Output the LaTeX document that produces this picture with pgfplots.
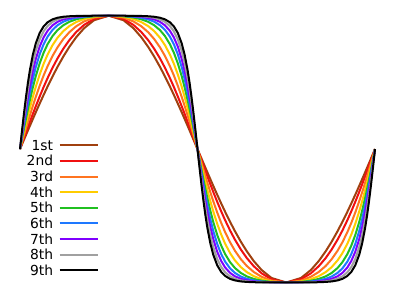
\documentclass[border=0pt]{standalone}
\usepackage{pgfplots}
\usepackage{pgfplotstable}
\pgfplotsset{compat=1.18}
\usepackage{fontspec}
\setmainfont{DejaVu Sans}
\definecolor{c1}{HTML}{A0400F}
\definecolor{c2}{HTML}{F01010}
\definecolor{c3}{HTML}{FF7420}
\definecolor{c4}{HTML}{FFCC00}
\definecolor{c5}{HTML}{20C020}
\definecolor{c6}{HTML}{1E78FF}
\definecolor{c7}{HTML}{7F00FF}
\definecolor{c8}{HTML}{A0A0A0}
\definecolor{c9}{HTML}{000000}
\pgfplotstableread{
x c1 c2 c3 c4 c5 c6 c7 c8 c9
0 0 0 0 0 0 0 0 0 0
2 0.0349 0.0412 0.0514 0.0634 0.0770 0.0898 0.1032 0.1184 0.1354
4 0.0698 0.0823 0.1025 0.1262 0.1530 0.1782 0.2040 0.2334 0.2657
6 0.1045 0.1232 0.1532 0.1880 0.2271 0.2636 0.3006 0.3419 0.3868
8 0.1392 0.1637 0.2030 0.2483 0.2986 0.3449 0.3911 0.4418 0.4955
10 0.1736 0.2039 0.2519 0.3067 0.3667 0.4211 0.4743 0.5314 0.5902
13 0.2250 0.2631 0.3230 0.3900 0.4615 0.5244 0.5840 0.6454 0.7056
16 0.2756 0.3209 0.3908 0.4672 0.5464 0.6136 0.6750 0.7356 0.7920
20 0.3420 0.3952 0.4754 0.5599 0.6436 0.7111 0.7695 0.8238 0.8709
24 0.4067 0.4659 0.5525 0.6403 0.7230 0.7863 0.8382 0.8836 0.9203
28 0.4695 0.5325 0.6220 0.7088 0.7866 0.8430 0.8869 0.9231 0.9507
33 0.5446 0.6096 0.6979 0.7790 0.8473 0.8937 0.9277 0.9540 0.9726
38 0.6157 0.6794 0.7623 0.8344 0.8916 0.9283 0.9537 0.9722 0.9845
44 0.6947 0.7533 0.8258 0.8849 0.9288 0.9553 0.9727 0.9846 0.9920
50 0.7660 0.8166 0.8761 0.9219 0.9540 0.9724 0.9838 0.9913 0.9957
57 0.8387 0.8775 0.9209 0.9523 0.9732 0.9846 0.9913 0.9956 0.9979
65 0.9063 0.9310 0.9572 0.9752 0.9866 0.9926 0.9960 0.9980 0.9991
75 0.9659 0.9756 0.9854 0.9918 0.9957 0.9977 0.9988 0.9994 0.9997
90 1 1 1 1 1 1 1 1 1
105 0.9659 0.9756 0.9854 0.9918 0.9957 0.9977 0.9988 0.9994 0.9997
115 0.9063 0.9310 0.9572 0.9752 0.9866 0.9926 0.9960 0.9980 0.9991
123 0.8387 0.8775 0.9209 0.9523 0.9732 0.9846 0.9913 0.9956 0.9979
130 0.7660 0.8166 0.8761 0.9219 0.9540 0.9724 0.9838 0.9913 0.9957
136 0.6947 0.7533 0.8258 0.8849 0.9288 0.9553 0.9727 0.9846 0.9920
142 0.6157 0.6794 0.7623 0.8344 0.8916 0.9283 0.9537 0.9722 0.9845
147 0.5446 0.6096 0.6979 0.7790 0.8473 0.8937 0.9277 0.9540 0.9726
152 0.4695 0.5325 0.6220 0.7088 0.7866 0.8430 0.8869 0.9231 0.9507
156 0.4067 0.4659 0.5525 0.6403 0.7230 0.7863 0.8382 0.8836 0.9203
160 0.3420 0.3952 0.4754 0.5599 0.6436 0.7111 0.7695 0.8238 0.8709
164 0.2756 0.3209 0.3908 0.4672 0.5464 0.6136 0.6750 0.7356 0.7920
167 0.2250 0.2631 0.3230 0.3900 0.4615 0.5244 0.5840 0.6454 0.7056
170 0.1736 0.2039 0.2519 0.3067 0.3667 0.4211 0.4743 0.5314 0.5902
172 0.1392 0.1637 0.2030 0.2483 0.2986 0.3449 0.3911 0.4418 0.4955
174 0.1045 0.1232 0.1532 0.1880 0.2271 0.2636 0.3006 0.3419 0.3868
176 0.0698 0.0823 0.1025 0.1262 0.1530 0.1782 0.2040 0.2334 0.2657
178 0.0349 0.0412 0.0514 0.0634 0.0770 0.0898 0.1032 0.1184 0.1354
180 0 0 0 0 0 0 0 0 0
182 -0.0349 -0.0412 -0.0514 -0.0634 -0.0770 -0.0898 -0.1032 -0.1184 -0.1354
184 -0.0698 -0.0823 -0.1025 -0.1262 -0.1530 -0.1782 -0.2040 -0.2334 -0.2657
186 -0.1045 -0.1232 -0.1532 -0.1880 -0.2271 -0.2636 -0.3006 -0.3419 -0.3868
188 -0.1392 -0.1637 -0.2030 -0.2483 -0.2986 -0.3449 -0.3911 -0.4418 -0.4955
190 -0.1736 -0.2039 -0.2519 -0.3067 -0.3667 -0.4211 -0.4743 -0.5314 -0.5902
193 -0.2250 -0.2631 -0.3230 -0.3900 -0.4615 -0.5244 -0.5840 -0.6454 -0.7056
196 -0.2756 -0.3209 -0.3908 -0.4672 -0.5464 -0.6136 -0.6750 -0.7356 -0.7920
200 -0.3420 -0.3952 -0.4754 -0.5599 -0.6436 -0.7111 -0.7695 -0.8238 -0.8709
204 -0.4067 -0.4659 -0.5525 -0.6403 -0.7230 -0.7863 -0.8382 -0.8836 -0.9203
208 -0.4695 -0.5325 -0.6220 -0.7088 -0.7866 -0.8430 -0.8869 -0.9231 -0.9507
213 -0.5446 -0.6096 -0.6979 -0.7790 -0.8473 -0.8937 -0.9277 -0.9540 -0.9726
218 -0.6157 -0.6794 -0.7623 -0.8344 -0.8916 -0.9283 -0.9537 -0.9722 -0.9845
224 -0.6947 -0.7533 -0.8258 -0.8849 -0.9288 -0.9553 -0.9727 -0.9846 -0.9920
230 -0.7660 -0.8166 -0.8761 -0.9219 -0.9540 -0.9724 -0.9838 -0.9913 -0.9957
237 -0.8387 -0.8775 -0.9209 -0.9523 -0.9732 -0.9846 -0.9913 -0.9956 -0.9979
245 -0.9063 -0.9310 -0.9572 -0.9752 -0.9866 -0.9926 -0.9960 -0.9980 -0.9991
255 -0.9659 -0.9756 -0.9854 -0.9918 -0.9957 -0.9977 -0.9988 -0.9994 -0.9997
270 -1 -1 -1 -1 -1 -1 -1 -1 -1
285 -0.9659 -0.9756 -0.9854 -0.9918 -0.9957 -0.9977 -0.9988 -0.9994 -0.9997
295 -0.9063 -0.9310 -0.9572 -0.9752 -0.9866 -0.9926 -0.9960 -0.9980 -0.9991
303 -0.8387 -0.8775 -0.9209 -0.9523 -0.9732 -0.9846 -0.9913 -0.9956 -0.9979
310 -0.7660 -0.8166 -0.8761 -0.9219 -0.9540 -0.9724 -0.9838 -0.9913 -0.9957
316 -0.6947 -0.7533 -0.8258 -0.8849 -0.9288 -0.9553 -0.9727 -0.9846 -0.9920
322 -0.6157 -0.6794 -0.7623 -0.8344 -0.8916 -0.9283 -0.9537 -0.9722 -0.9845
327 -0.5446 -0.6096 -0.6979 -0.7790 -0.8473 -0.8937 -0.9277 -0.9540 -0.9726
332 -0.4695 -0.5325 -0.6220 -0.7088 -0.7866 -0.8430 -0.8869 -0.9231 -0.9507
336 -0.4067 -0.4659 -0.5525 -0.6403 -0.7230 -0.7863 -0.8382 -0.8836 -0.9203
340 -0.3420 -0.3952 -0.4754 -0.5599 -0.6436 -0.7111 -0.7695 -0.8238 -0.8709
344 -0.2756 -0.3209 -0.3908 -0.4672 -0.5464 -0.6136 -0.6750 -0.7356 -0.7920
347 -0.2250 -0.2631 -0.3230 -0.3900 -0.4615 -0.5244 -0.5840 -0.6454 -0.7056
350 -0.1736 -0.2039 -0.2519 -0.3067 -0.3667 -0.4211 -0.4743 -0.5314 -0.5902
352 -0.1392 -0.1637 -0.2030 -0.2483 -0.2986 -0.3449 -0.3911 -0.4418 -0.4955
354 -0.1045 -0.1232 -0.1532 -0.1880 -0.2271 -0.2636 -0.3006 -0.3419 -0.3868
356 -0.0698 -0.0823 -0.1025 -0.1262 -0.1530 -0.1782 -0.2040 -0.2334 -0.2657
358 -0.0349 -0.0412 -0.0514 -0.0634 -0.0770 -0.0898 -0.1032 -0.1184 -0.1354
360 0 0 0 0 0 0 0 0 0
}\data
\begin{document}
\begin{tikzpicture}
\begin{axis}[
  width=289pt, height=216.75pt, scale only axis,
  hide axis,
  xmin=-20.28, xmax=385.35,
  ymin=-1.1312, ymax=1.1177,
  every axis plot/.append style={line width=1.45pt, line join=round},
  legend plot pos=right,
  legend cell align=right,
  legend image code/.code={\draw[#1] (0pt,0pt) -- (27.5pt,0pt);},
  legend style={draw=none, fill=none, at={(0.0575,0.5427)}, anchor=north west,
    font=\fontsize{10}{12}\selectfont, row sep=0pt, column sep=1.45pt, inner sep=0pt,
    nodes={inner ysep=2pt, inner xsep=2.5pt, text height=7.3pt, text depth=0pt}},
]
\addplot[c1] table[x=x,y=c1]{\data};
\addplot[c2] table[x=x,y=c2]{\data};
\addplot[c3] table[x=x,y=c3]{\data};
\addplot[c4] table[x=x,y=c4]{\data};
\addplot[c5] table[x=x,y=c5]{\data};
\addplot[c6] table[x=x,y=c6]{\data};
\addplot[c7] table[x=x,y=c7]{\data};
\addplot[c8] table[x=x,y=c8]{\data};
\addplot[c9] table[x=x,y=c9]{\data};
\legend{1st,2nd,3rd,4th,5th,6th,7th,8th,9th}
\end{axis}
\pgfresetboundingbox
\path (current axis.south west) rectangle (current axis.north east);
\end{tikzpicture}
\end{document}
